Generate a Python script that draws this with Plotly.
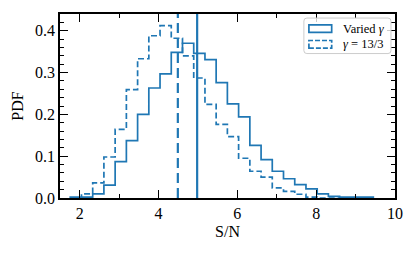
import plotly.graph_objects as go

# bin edges of the S/N histograms (shared by both samples)
bin_edges = [1.760, 2.045, 2.330, 2.614, 2.899, 3.184, 3.469, 3.754, 4.038,
             4.323, 4.608, 4.893, 5.178, 5.462, 5.747, 6.032, 6.317, 6.602,
             6.886, 7.171, 7.456, 7.741, 8.026, 8.310, 8.595, 8.880, 9.165, 9.450]

# PDF values per bin
pdf_varied = [0.002, 0.002, 0.010, 0.031, 0.087, 0.137, 0.200, 0.263, 0.297,
              0.348, 0.370, 0.346, 0.331, 0.276, 0.225, 0.194, 0.126, 0.092,
              0.064, 0.046, 0.032, 0.022, 0.010, 0.004, 0.002, 0.002, 0.002]
pdf_fixed = [0.000, 0.010, 0.036, 0.098, 0.164, 0.259, 0.333, 0.388, 0.412,
             0.382, 0.340, 0.287, 0.224, 0.176, 0.147, 0.095, 0.064, 0.050,
             0.024, 0.016, 0.009, 0.002, 0.000, 0.000, 0.000, 0.000, 0.000]

# mean S/N of each sample
mean_varied = 4.98
mean_fixed = 4.49

C0 = '#1f77b4'
FONT = 'Liberation Serif, Times New Roman, serif'


def step_xy(edges, vals):
    # outline of a step histogram: start and end at zero
    xs = [edges[0]] + list(edges) + [edges[-1]]
    ys = [0] + list(vals) + [vals[-1], 0]
    return xs, ys


def rounded_box(x0, x1, y0, y1, rx=0.009, ry=0.016):
    return (f'M {x0+rx},{y0} L {x1-rx},{y0} Q {x1},{y0} {x1},{y0+ry} '
            f'L {x1},{y1-ry} Q {x1},{y1} {x1-rx},{y1} L {x0+rx},{y1} '
            f'Q {x0},{y1} {x0},{y1-ry} L {x0},{y0+ry} Q {x0},{y0} {x0+rx},{y0} Z')


fig = go.Figure()

x1, y1 = step_xy(bin_edges, pdf_varied)
fig.add_trace(go.Scatter(x=x1, y=y1, mode='lines', line_shape='hv',
                         line=dict(color=C0, width=1.7), name='Varied γ'))
x2, y2 = step_xy(bin_edges, pdf_fixed)
fig.add_trace(go.Scatter(x=x2, y=y2, mode='lines', line_shape='hv',
                         line=dict(color=C0, width=1.7, dash='6px,3px'),
                         name='γ = 13/3'))

fig.add_vline(x=mean_varied, line=dict(color=C0, width=2.2))
fig.add_vline(x=mean_fixed, line=dict(color=C0, width=2.2, dash='10px,5px'))

# legend drawn by hand so the handles are rectangles like matplotlib's
fig.add_shape(type='path', xref='paper', yref='paper',
              path=rounded_box(0.728, 0.988, 0.785, 0.978),
              line=dict(color='#cccccc', width=1),
              fillcolor='rgba(255,255,255,0.8)')
fig.add_shape(type='rect', xref='paper', yref='paper', x0=0.743, x1=0.811,
              y0=0.900, y1=0.941, line=dict(color=C0, width=1.7))
fig.add_shape(type='rect', xref='paper', yref='paper', x0=0.743, x1=0.811,
              y0=0.815, y1=0.856, line=dict(color=C0, width=1.7, dash='5px,2px'))
fig.add_annotation(xref='paper', yref='paper', x=0.838, y=0.921, xanchor='left',
                   yanchor='middle', text='Varied <i>γ</i>', showarrow=False,
                   font=dict(size=12.5, color='black', family=FONT))
fig.add_annotation(xref='paper', yref='paper', x=0.838, y=0.836, xanchor='left',
                   yanchor='middle', text='<i>γ</i> = 13/3', showarrow=False,
                   font=dict(size=12.5, color='black', family=FONT))

axis_style = dict(showline=True, linecolor='black', linewidth=1.5, mirror='ticks',
                  ticks='inside', ticklen=8, tickwidth=1, tickcolor='black',
                  showgrid=False, zeroline=False,
                  tickfont=dict(size=16, color='black', family=FONT))

fig.update_xaxes(range=[1.5, 10], tick0=0, dtick=2,
                 minor=dict(ticks='inside', ticklen=4, dtick=1, tickcolor='black'),
                 title=dict(text='S/N', font=dict(size=16, color='black', family=FONT),
                            standoff=5),
                 **axis_style)
fig.update_yaxes(range=[0, 0.44], tick0=0, dtick=0.1, tickformat='.1f',
                 minor=dict(ticks='inside', ticklen=4, dtick=0.02, tickcolor='black'),
                 title=dict(text='PDF', font=dict(size=16, color='black', family=FONT),
                            standoff=7),
                 **axis_style)

# page body adds an 8px offset, so the figure is 8px smaller than the window
fig.update_layout(width=408, height=245,
                  margin=dict(l=52, r=21, t=4, b=55),
                  paper_bgcolor='white', plot_bgcolor='white',
                  showlegend=False,
                  font=dict(family=FONT, color='black'))

fig.write_html("out.html")
